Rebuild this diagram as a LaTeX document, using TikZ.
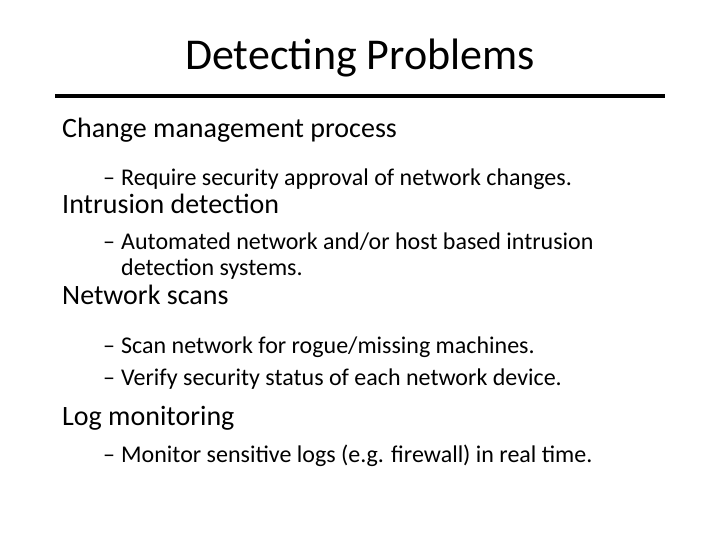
\documentclass[tikz,border=0pt]{standalone}
\usepackage{fontspec}
\setmainfont{Carlito}
\begin{document}
\begin{tikzpicture}[x=1pt,y=-1pt,
  lone/.style={anchor=base west,inner sep=0pt,font=\fontsize{28}{32}\selectfont},
  ltwo/.style={anchor=base west,inner sep=0pt,font=\fontsize{24}{28}\selectfont},
  dsh/.style={anchor=base west,inner sep=0pt,font=\fontsize{24}{28}\selectfont}]
\useasboundingbox (0,0) rectangle (720,540);
\node[anchor=base,inner sep=0pt,font=\fontsize{44}{48}\selectfont] (title) at (360,70) {Detecting Problems};
\coordinate (la) at (55,96); \coordinate (lb) at (665,96);
\draw[line width=4pt] (la) -- (lb);
\node[lone] (a) at (62,138) {Change management process};
\node[dsh] (a1d) at (103,186) {–}; \node[ltwo] (a1) at (121,186) {Require security approval of network changes.};
\node[lone] (b) at (62,214) {Intrusion detection};
\node[dsh] (b1d) at (103,249) {–}; \node[ltwo] (b1) at (121,249) {Automated network and/or host based intrusion};
\node[ltwo] (b2) at (121,275) {detection systems.};
\node[lone] (c) at (62,304) {Network scans};
\node[dsh] (c1d) at (103,353) {–}; \node[ltwo] (c1) at (121,353) {Scan network for rogue/missing machines.};
\node[dsh] (c2d) at (103,385) {–}; \node[ltwo] (c2) at (121,385) {Verify security status of each network device.};
\node[lone] (d) at (62,425) {Log monitoring};
\node[dsh] (d1d) at (103,462) {–}; \node[ltwo] (d1) at (121,462) {Monitor sensitive logs (e.g. firewall) in real time.};
\end{tikzpicture}
\end{document}
